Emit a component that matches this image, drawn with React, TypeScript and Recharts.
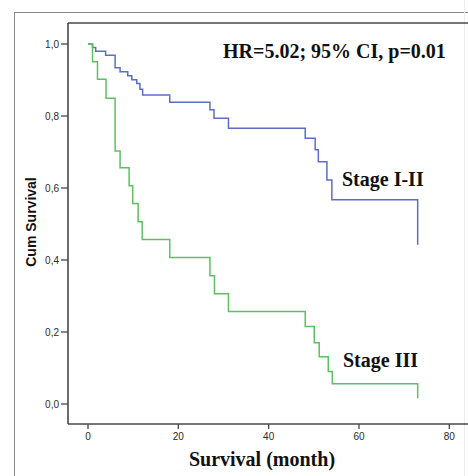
import React from 'react'
import { LineChart, Line, XAxis, YAxis, ReferenceLine } from 'recharts'

// Kaplan-Meier steps (time in months, cumulative survival)
const stage12Times = [0, 1.0, 1.7, 3.9, 6.0, 7.1, 8.8, 9.7, 10.8, 11.5, 12.1, 18.1, 27.0, 27.9, 31.1, 48.1, 50.3, 51.0, 52.9, 54.0, 73.0]
const stage12Surv = [1.0, 0.99, 0.98, 0.969, 0.934, 0.923, 0.912, 0.901, 0.89, 0.874, 0.858, 0.838, 0.817, 0.794, 0.766, 0.738, 0.706, 0.673, 0.622, 0.567, 0.442]

const stage3Times = [0, 1.0, 2.1, 4.0, 6.0, 7.1, 9.1, 9.9, 11.1, 12.0, 18.1, 27.0, 28.0, 31.1, 48.1, 50.1, 51.2, 53.2, 54.1, 73.0]
const stage3Surv = [1.0, 0.951, 0.902, 0.849, 0.703, 0.656, 0.606, 0.557, 0.506, 0.457, 0.407, 0.356, 0.306, 0.257, 0.215, 0.17, 0.131, 0.09, 0.056, 0.016]

const xTicks = [0, 20, 40, 60, 80]
const yTicks = [0, 0.2, 0.4, 0.6, 0.8, 1.0]

const X_MIN = -4.43
const X_MAX = 86.8
const Y_MIN = -0.0556
const Y_MAX = 1.0583

const stage12Data = stage12Times.map((t, i) => ({ t, s: stage12Surv[i] }))
const stage3Data = stage3Times.map((t, i) => ({ t, s: stage3Surv[i] }))

const AXIS = '#474747'
const tickStyle = { fontSize: 10, fill: '#2a2a2a', fontFamily: '"Liberation Sans", Arial, sans-serif' }
const serif = '"Liberation Serif", "Times New Roman", serif'

export default function App() {
  return (
    <div style={{ position: 'absolute', left: 0, top: 0, width: 468, height: 476, overflow: 'hidden', background: '#fff' }}>
      {/* outer frame */}
      <div style={{ position: 'absolute', left: 14, top: 12, width: 600, height: 600, borderLeft: '1.5px solid #8a8a8a', borderTop: '1.5px solid #8a8a8a' }} />
      <div style={{ position: 'absolute', left: 464, top: 0, width: 1, height: 476, background: '#ececec' }} />

      <div style={{ position: 'absolute', left: 0, top: 0 }}>
        <LineChart width={480} height={476} margin={{ top: 23, right: 0, left: 14, bottom: 0 }}>
          <XAxis
            dataKey="t"
            type="number"
            domain={[X_MIN, X_MAX]}
            ticks={xTicks}
            allowDataOverflow
            height={52}
            tickSize={5}
            tickMargin={4}
            tick={tickStyle}
            axisLine={{ stroke: AXIS, strokeWidth: 1.6 }}
            tickLine={{ stroke: AXIS, strokeWidth: 1.3 }}
          />
          <YAxis
            type="number"
            domain={[Y_MIN, Y_MAX]}
            ticks={yTicks}
            allowDataOverflow
            width={54}
            tickSize={7}
            tickMargin={2}
            tick={tickStyle}
            tickFormatter={(v: number) => v.toFixed(1).replace('.', ',')}
            axisLine={{ stroke: AXIS, strokeWidth: 1.6 }}
            tickLine={{ stroke: AXIS, strokeWidth: 1.3 }}
          />
          <ReferenceLine y={Y_MAX} stroke={AXIS} strokeWidth={1.6} />
          <Line
            data={stage12Data}
            dataKey="s"
            type="stepAfter"
            stroke="#5c6fc6"
            strokeWidth={1.5}
            dot={false}
            isAnimationActive={false}
          />
          <Line
            data={stage3Data}
            dataKey="s"
            type="stepAfter"
            stroke="#5fc062"
            strokeWidth={1.5}
            dot={false}
            isAnimationActive={false}
          />
        </LineChart>
      </div>

      <div style={{ position: 'absolute', left: 223, top: 41, fontFamily: serif, fontWeight: 'bold', fontSize: 20, lineHeight: '20px', whiteSpace: 'nowrap', color: '#111' }}>
        HR=5.02; 95% CI, p=0.01
      </div>
      <div style={{ position: 'absolute', left: 342, top: 169, fontFamily: serif, fontWeight: 'bold', fontSize: 20, lineHeight: '20px', whiteSpace: 'nowrap', color: '#111' }}>
        Stage I-II
      </div>
      <div style={{ position: 'absolute', left: 343, top: 350, fontFamily: serif, fontWeight: 'bold', fontSize: 20, lineHeight: '20px', whiteSpace: 'nowrap', color: '#111' }}>
        Stage III
      </div>
      <div style={{ position: 'absolute', left: 262, top: 449, transform: 'translateX(-50%)', fontFamily: serif, fontWeight: 'bold', fontSize: 20, lineHeight: '20px', whiteSpace: 'nowrap', color: '#111' }}>
        Survival (month)
      </div>
      <div style={{ position: 'absolute', left: 31, top: 222, transform: 'translate(-50%, -50%) rotate(-90deg)', fontFamily: '"Liberation Sans", Arial, sans-serif', fontWeight: 'bold', fontSize: 14, lineHeight: '14px', whiteSpace: 'nowrap', color: '#111' }}>
        Cum Survival
      </div>
    </div>
  )
}
